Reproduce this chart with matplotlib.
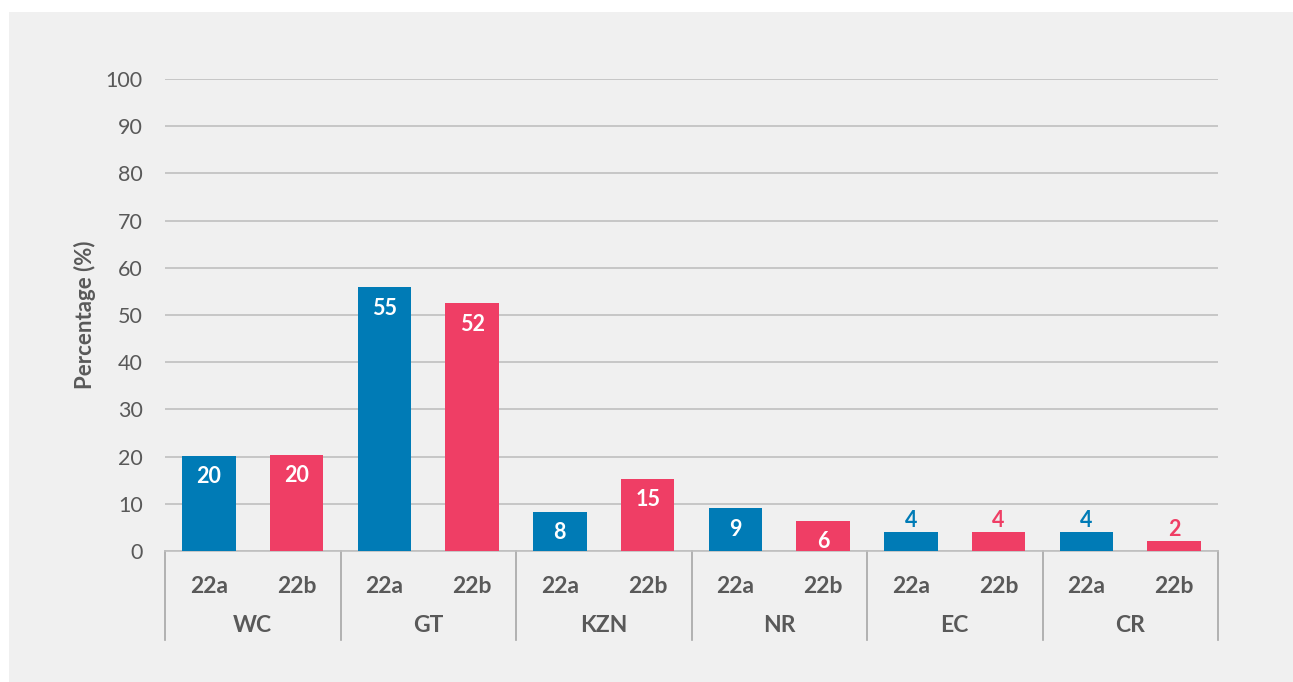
import matplotlib.pyplot as plt
from matplotlib.patches import Rectangle

# data
regions = ["WC", "GT", "KZN", "NR", "EC", "CR"]
series = ["22a", "22b"]
values_a = [20.2, 55.9, 8.3, 9.1, 4.0, 4.0]
values_b = [20.4, 52.5, 15.3, 6.4, 4.0, 2.1]
labels_a = ["20", "55", "8", "9", "4", "4"]
labels_b = ["20", "52", "15", "6", "4", "2"]

BLUE = "#007BB6"
PINK = "#EF3E65"
TEXT = "#595959"
GRID = "#BFBFBF"
PANEL = "#F0F0F0"


def draw_chart():
    """Draw the grouped bar chart and save it to out.png."""
    plt.rcParams["font.family"] = ["Lato", "DejaVu Sans"]

    fig = plt.figure(figsize=(12.93, 6.82), dpi=100, facecolor="white")
    fig.patches.append(Rectangle((9 / 1293, 0), 1 - 9 / 1293, 670 / 682,
                                 transform=fig.transFigure,
                                 facecolor=PANEL, edgecolor="none",
                                 zorder=-10))

    ax = fig.add_axes([165 / 1293, 131 / 682, 1053 / 1293, 472 / 682])
    ax.set_facecolor("none")

    n = len(regions)
    width = 0.61
    x_a = [2 * i for i in range(n)]
    x_b = [2 * i + 1 for i in range(n)]

    bars_a = ax.bar(x_a, values_a, width, color=BLUE, zorder=3)
    bars_b = ax.bar(x_b, values_b, width, color=PINK, zorder=3)

    # value labels: white inside tall bars, coloured above short ones
    for bars, labels, colour in [(bars_a, labels_a, BLUE),
                                 (bars_b, labels_b, PINK)]:
        for bar, lab in zip(bars, labels):
            h = bar.get_height()
            cx = bar.get_x() + bar.get_width() / 2
            if h > 5:
                ax.annotate(lab, (cx, h), xytext=(0, -21),
                            textcoords="offset pixels", ha="center",
                            va="center", color="white", fontsize=15.5,
                            fontweight="bold", zorder=4)
            else:
                ax.annotate(lab, (cx, h), xytext=(0, 12),
                            textcoords="offset pixels", ha="center",
                            va="center", color=colour, fontsize=15.5,
                            fontweight="bold", zorder=4)

    ax.set_xlim(-0.5, 2 * n - 0.5)
    ax.set_ylim(0, 100)
    ax.set_yticks(range(0, 101, 10))
    ax.yaxis.grid(True, color=GRID, linewidth=1.2, zorder=0)
    ax.tick_params(axis="y", length=0, pad=16, labelsize=15.5,
                   labelcolor=TEXT)

    ax.set_xticks(x_a + x_b)
    ax.set_xticklabels([series[0]] * n + [series[1]] * n)
    ax.tick_params(axis="x", length=0, pad=18, labelsize=16.5,
                   labelcolor=TEXT)
    for lab in ax.get_xticklabels():
        lab.set_fontweight("bold")

    for side in ["top", "right", "left"]:
        ax.spines[side].set_visible(False)
    ax.spines["bottom"].set_color(GRID)
    ax.spines["bottom"].set_linewidth(1.2)

    trans = ax.get_xaxis_transform()
    for i, name in enumerate(regions):
        ax.text(2 * i + 0.5, -74 / 472, name, transform=trans,
                ha="center", va="center", fontsize=16.5,
                fontweight="bold", color=TEXT)
    for i in range(n + 1):
        ax.plot([2 * i - 0.5, 2 * i - 0.5], [0, -89 / 472],
                transform=trans, color="#A6A6A6", linewidth=1.2,
                clip_on=False)

    ax.set_ylabel("Percentage (%)", fontsize=16, fontweight="bold",
                  color=TEXT)
    ax.yaxis.label.set_va("center")
    ax.yaxis.set_label_coords((85 - 165) / 1053, 0.5)

    fig.savefig("out.png", dpi=100, facecolor=fig.get_facecolor())


def main():
    """Build the chart."""
    try:
        draw_chart()
    except Exception as e:
        print(f"Error: {e}")


if __name__ == "__main__":
    main()
